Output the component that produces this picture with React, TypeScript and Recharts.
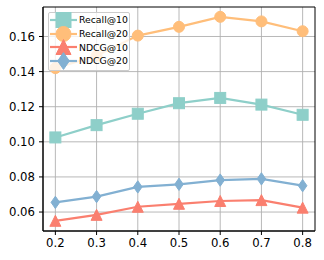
import React from 'react';
import { LineChart, Line, XAxis, YAxis, CartesianGrid, Legend, ReferenceArea } from 'recharts';

const ratios = [0.2, 0.3, 0.4, 0.5, 0.6, 0.7, 0.8];
const recall10 = [0.1025, 0.1095, 0.116, 0.1220, 0.125, 0.1212, 0.1154];
const recall20 = [0.1420, 0.1490, 0.1605, 0.1655, 0.1712, 0.1686, 0.1630];
const ndcg10 = [0.0550, 0.0584, 0.0630, 0.0647, 0.0663, 0.0668, 0.0625];
const ndcg20 = [0.0655, 0.0688, 0.0743, 0.0758, 0.0782, 0.0789, 0.0750];
const xTicks = [0.2, 0.3, 0.4, 0.5, 0.6, 0.7, 0.8];
const yTicks = [0.06, 0.08, 0.10, 0.12, 0.14, 0.16];

const data = ratios.map((r, i) => ({
  r,
  recall10: recall10[i],
  recall20: recall20[i],
  ndcg10: ndcg10[i],
  ndcg20: ndcg20[i],
}));

const C = {
  recall10: '#8ECFC9',
  recall20: '#FFBE7A',
  ndcg10: '#FA7F6F',
  ndcg20: '#82B0D2',
};

type Shape = 'square' | 'circle' | 'triangle' | 'diamond';
const MS = 11;
const LMS = 15;

function markerPath(shape: Shape, cx: number, cy: number, s: number): React.ReactElement {
  const h = s / 2;
  if (shape === 'square') return <rect x={cx - h} y={cy - h} width={s} height={s} />;
  if (shape === 'circle') return <circle cx={cx} cy={cy} r={h} />;
  if (shape === 'triangle')
    return <path d={`M${cx},${cy - h} L${cx + h},${cy + h} L${cx - h},${cy + h} Z`} />;
  return <path d={`M${cx},${cy - h * 1.12} L${cx + h * 0.78},${cy} L${cx},${cy + h * 1.12} L${cx - h * 0.78},${cy} Z`} />;
}

const makeDot = (shape: Shape, color: string) => (props: any) => {
  const { cx, cy, index } = props;
  if (cx == null || cy == null) return <g key={index} />;
  return (
    <g key={`${shape}-${index}`} fill={color} stroke={color} strokeWidth={1} strokeLinejoin="miter">
      {markerPath(shape, cx, cy, MS)}
    </g>
  );
};

const series: { key: string; name: string; shape: Shape }[] = [
  { key: 'recall10', name: 'Recall@10', shape: 'square' },
  { key: 'recall20', name: 'Recall@20', shape: 'circle' },
  { key: 'ndcg10', name: 'NDCG@10', shape: 'triangle' },
  { key: 'ndcg20', name: 'NDCG@20', shape: 'diamond' },
];

const LegendBox = () => (
  <div
    style={{
      width: 82,
      boxSizing: 'border-box',
      background: 'rgba(255,255,255,0.8)',
      border: '1px solid #cccccc',
      borderRadius: 2,
      padding: '0px 1px 2px 1px',
      fontFamily: 'DejaVu Sans',
      fontSize: 9.3,
      color: '#000',
      textAlign: 'left',
    }}
  >
    {series.map((s) => (
      <div key={s.key} style={{ display: 'flex', alignItems: 'center', height: 13.7, whiteSpace: 'nowrap' }}>
        <svg width={28} height={14} style={{ display: 'block', flex: 'none', overflow: 'visible' }}>
          <line x1={0} y1={7} x2={27} y2={7} stroke={(C as any)[s.key]} strokeWidth={2.2} />
          <g fill={(C as any)[s.key]} stroke={(C as any)[s.key]} strokeWidth={1}>
            {markerPath(s.shape, 13.5, 7, LMS)}
          </g>
        </svg>
        <span style={{ marginLeft: 1 }}>{s.name}</span>
      </div>
    ))}
  </div>
);

const tickStyle = { fill: '#000', fontSize: 11.7, fontFamily: 'DejaVu Sans' };

export default function App() {
  return (
    <div style={{ position: 'absolute', left: 0, top: 0, width: 324, height: 260, background: '#fff' }}>
      <LineChart width={324} height={260} data={data} margin={{ top: 7, right: 9, left: 0, bottom: 0 }}>
        <CartesianGrid stroke="#b0b0b0" strokeWidth={0.9} horizontalValues={yTicks} verticalValues={xTicks} />
        <XAxis
          dataKey="r"
          type="number"
          domain={[0.17, 0.83]}
          ticks={xTicks}
          allowDataOverflow
          height={29}
          tickSize={4}
          tickMargin={4}
          tickLine={{ stroke: '#000' }}
          axisLine={{ stroke: '#000' }}
          tick={tickStyle}
          tickFormatter={(v: number) => v.toFixed(1)}
        />
        <YAxis
          type="number"
          domain={[0.0492, 0.1768]}
          ticks={yTicks}
          allowDataOverflow
          width={43}
          tickSize={4}
          tickMargin={4}
          tickLine={{ stroke: '#000' }}
          axisLine={{ stroke: '#000' }}
          tick={tickStyle}
          tickFormatter={(v: number) => v.toFixed(2)}
        />
        <ReferenceArea x1={0.17} x2={0.83} y1={0.0492} y2={0.1768} fill="none" stroke="#000" strokeWidth={1} ifOverflow="visible" />
        {series.map((s) => (
          <Line
            key={s.key}
            dataKey={s.key}
            name={s.name}
            stroke={(C as any)[s.key]}
            strokeWidth={2.2}
            dot={makeDot(s.shape, (C as any)[s.key])}
            activeDot={false}
            isAnimationActive={false}
          />
        ))}
        <Legend
          layout="vertical"
          verticalAlign="middle"
          align="center"
          content={<LegendBox />}
          wrapperStyle={{ left: 48, top: 12, width: 82, right: 'auto', bottom: 'auto' }}
        />
      </LineChart>
    </div>
  );
}
